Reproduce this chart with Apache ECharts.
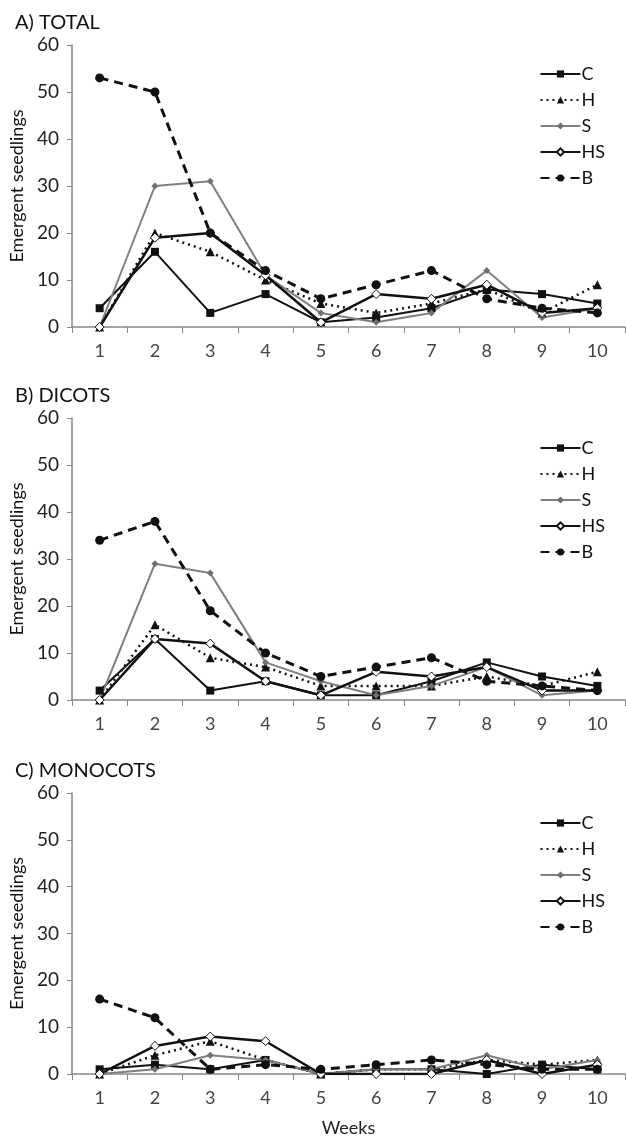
<!DOCTYPE html>
<html>
<head>
<meta charset="utf-8">
<script src="https://cdn.jsdelivr.net/npm/echarts@6/dist/echarts.min.js"></script>
<style>
  html, body { margin: 0; padding: 0; background: #fff; }
  #chart { width: 626px; height: 1138px; }
</style>
</head>
<body>
<div id="chart"></div>
<script>
// weeks and series
const weeks = ['1', '2', '3', '4', '5', '6', '7', '8', '9', '10']
const seriesNames = ['C', 'H', 'S', 'HS', 'B']
const panelTitles = ['A) TOTAL', 'B) DICOTS', 'C) MONOCOTS']

// A) total
const totalC = [4, 16, 3, 7, 1, 2, 4, 8, 7, 5]
const totalH = [0, 20, 16, 10, 5, 3, 5, 8, 3, 9]
const totalS = [0, 30, 31, 11, 3, 1, 3, 12, 2, 4]
const totalHS = [0, 19, 20, 11, 1, 7, 6, 9, 3, 4]
const totalB = [53, 50, 20, 12, 6, 9, 12, 6, 4, 3]

// B) dicots
const dicotC = [2, 13, 2, 4, 1, 1, 4, 8, 5, 3]
const dicotH = [0, 16, 9, 7, 3, 3, 3, 5, 3, 6]
const dicotS = [0, 29, 27, 8, 4, 1, 3, 7, 1, 2]
const dicotHS = [0, 13, 12, 4, 1, 6, 5, 7, 2, 2]
const dicotB = [34, 38, 19, 10, 5, 7, 9, 4, 3, 2]

// C) monocots
const monoC = [1, 2, 1, 3, 0, 1, 1, 0, 2, 1]
const monoH = [0, 4, 7, 3, 0, 1, 1, 3, 2, 3]
const monoS = [0, 1, 4, 3, 0, 1, 1, 4, 1, 3]
const monoHS = [0, 6, 8, 7, 0, 0, 0, 3, 0, 2]
const monoB = [16, 12, 1, 2, 1, 2, 3, 2, 1, 1]

const panelData = [
  [totalC, totalH, totalS, totalHS, totalB],
  [dicotC, dicotH, dicotS, dicotHS, dicotB],
  [monoC, monoH, monoS, monoHS, monoB]
]

const gridTops = [45, 418, 793]
const gridHeight = 282
const legendTops = [60, 434, 809]

// line / marker look for each treatment
const styles = {
  C: { line: { color: '#111', width: 2, type: 'solid' }, symbol: 'rect', size: 8, item: { color: '#111' } },
  H: { line: { color: '#111', width: 2.5, type: [2, 4] }, symbol: 'triangle', size: 9, item: { color: '#111' } },
  S: { line: { color: '#808080', width: 2, type: 'solid' }, symbol: 'diamond', size: 7, item: { color: '#707070' } },
  HS: { line: { color: '#111', width: 2.5, type: 'solid' }, symbol: 'diamond', size: 9, item: { color: '#fff', borderColor: '#111', borderWidth: 1 } },
  B: { line: { color: '#111', width: 3, type: [9, 6] }, symbol: 'circle', size: 9, item: { color: '#111' } }
}

const fontFamily = 'Lato, "Open Sans", sans-serif'

const chart = echarts.init(document.getElementById('chart'))

const grid = []
const xAxis = []
const yAxis = []
const legend = []
const title = []
const series = []

panelData.forEach((sets, p) => {
  grid.push({ left: 72, right: 1, top: gridTops[p], height: gridHeight })
  title.push({
    text: panelTitles[p],
    left: 10,
    top: gridTops[p] - 37,
    textStyle: { fontFamily, fontSize: 20, fontWeight: 'normal', color: '#111' }
  })
  xAxis.push({
    type: 'category',
    gridIndex: p,
    data: weeks,
    boundaryGap: true,
    axisLine: { lineStyle: { color: '#888', width: 1.5 } },
    axisTick: { show: true, length: 6, lineStyle: { color: '#888' } },
    axisLabel: { fontFamily, fontSize: 18, color: '#444', margin: 15 },
    name: p === 2 ? 'Weeks' : '',
    nameLocation: 'middle',
    nameGap: 45,
    nameTextStyle: { fontFamily, fontSize: 18, color: '#222' }
  })
  yAxis.push({
    type: 'value',
    gridIndex: p,
    min: 0,
    max: 60,
    interval: 10,
    splitLine: { show: false },
    axisLine: { show: true, lineStyle: { color: '#888', width: 1.5 } },
    axisTick: { show: true, length: 5, lineStyle: { color: '#888' } },
    axisLabel: { fontFamily, fontSize: 19, color: '#222', margin: 13 },
    name: 'Emergent seedlings',
    nameLocation: 'middle',
    nameGap: 44,
    nameTextStyle: { fontFamily, fontSize: 18, color: '#111' }
  })
  legend.push({
    data: seriesNames,
    orient: 'vertical',
    right: 16,
    top: legendTops[p],
    itemGap: 8,
    itemWidth: 40,
    itemHeight: 9,
    textStyle: { fontFamily, fontSize: 18, color: '#111', padding: [0, 0, 0, -4] },
    selectedMode: false
  })
  sets.forEach((vals, i) => {
    const name = seriesNames[i]
    const st = styles[name]
    series.push({
      name,
      type: 'line',
      xAxisIndex: p,
      yAxisIndex: p,
      data: vals,
      symbol: st.symbol,
      symbolSize: st.size,
      showAllSymbol: true,
      lineStyle: st.line,
      itemStyle: st.item,
      z: name === 'B' ? 3 : 2,
      animation: false
    })
  })
})

chart.setOption({
  backgroundColor: '#fff',
  animation: false,
  title,
  grid,
  xAxis,
  yAxis,
  legend,
  series
})
</script>
</body>
</html>
